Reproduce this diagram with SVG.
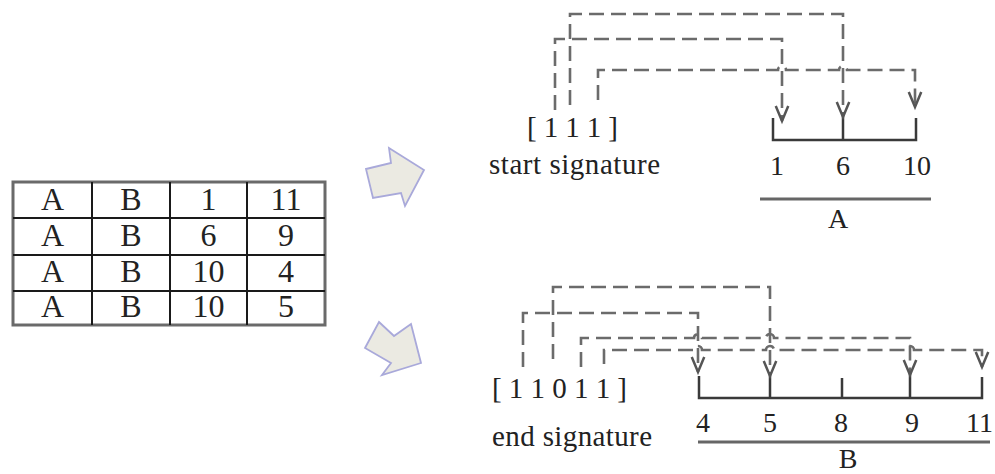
<svg xmlns="http://www.w3.org/2000/svg" width="995" height="474" viewBox="0 0 995 474">
  <style>
    text { font-family: "Liberation Serif", "Times New Roman", serif; fill: #222; }
    .cell { font-size: 32px; text-anchor: middle; }
    .lbl { font-size: 28px; text-anchor: middle; }
    .sig { font-size: 29px; }
    .grid { stroke: #1a1a1a; stroke-width: 2; fill: none; }
    .frame { stroke: #6a6a6a; stroke-width: 3; fill: none; }
    .dash { stroke: #6b6b6b; stroke-width: 2.6; fill: none; stroke-dasharray: 15 7; }
    .axis { stroke: #3a3a3a; stroke-width: 2.5; fill: none; }
    .under { stroke: #666; stroke-width: 3; }
    .block { fill: #ebeae2; stroke: #a9a9da; stroke-width: 1.8; stroke-linejoin: miter; }
  </style>
  <defs>
    <marker id="vhead" markerUnits="userSpaceOnUse" orient="auto" markerWidth="20" markerHeight="20" refX="0" refY="0" viewBox="-14 -8 16 16" overflow="visible">
      <path d="M-12,-5 L0,0 L-12,5" fill="none" stroke="#555" stroke-width="2" stroke-dasharray="none"/>
    </marker>
  </defs>
  <rect width="995" height="474" fill="#ffffff"/>

  <!-- source table -->
  <g id="table">
    <rect class="frame" x="13" y="182" width="312" height="143"/>
    <path class="grid" d="M13,218 H325 M13,255 H325 M13,291 H325 M92,182 V325 M170,182 V325 M247,182 V325"/>
    <g class="cell">
      <text x="52.5" y="210">A</text><text x="131" y="210">B</text><text x="208.5" y="210">1</text><text x="286" y="210">11</text>
      <text x="52.5" y="246">A</text><text x="131" y="246">B</text><text x="208.5" y="246">6</text><text x="286" y="246">9</text>
      <text x="52.5" y="282">A</text><text x="131" y="282">B</text><text x="208.5" y="282">10</text><text x="286" y="282">4</text>
      <text x="52.5" y="317">A</text><text x="131" y="317">B</text><text x="208.5" y="317">10</text><text x="286" y="317">5</text>
    </g>
  </g>

  <!-- block arrows -->
  <g id="arrow-up">
    <polygon class="block" points="366,169 391,163 389,148 424,170 405,206 401,193 373,198"/>
  </g>
  <g id="arrow-down">
    <polygon class="block" points="379,322 394,336 411,324 421,363 382,375 391,363 365,348"/>
  </g>

  <!-- start signature for column A -->
  <g id="start-signature">
    <text class="sig" x="527" y="137" textLength="91" lengthAdjust="spacing">[ 1 1 1 ]</text>
    <text class="sig" x="489" y="174" textLength="171" lengthAdjust="spacing">start signature</text>
  </g>
  <g id="axis-a">
    <path class="axis" d="M773,118 V140 H916 V118 M843,117 V140"/>
    <g class="lbl">
      <text x="777" y="175">1</text>
      <text x="843" y="175">6</text>
      <text x="917" y="175">10</text>
      <text x="838" y="228">A</text>
    </g>
    <line class="under" x1="760" y1="199" x2="931" y2="199"/>
  </g>

  <!-- end signature for column B -->
  <g id="end-signature">
    <text class="sig" x="492" y="398" textLength="135" lengthAdjust="spacing">[ 1 1 0 1 1 ]</text>
    <text class="sig" x="492" y="446" textLength="160" lengthAdjust="spacing">end signature</text>
  </g>
  <g id="axis-b">
    <path class="axis" d="M699,376 V398 H982 V377 M770,376 V398 M842,378 V398 M910,375 V398"/>
    <g class="lbl">
      <text x="703" y="432">4</text>
      <text x="770" y="432">5</text>
      <text x="841" y="432">8</text>
      <text x="912" y="432">9</text>
      <text x="993" y="432" text-anchor="end">11</text>
      <text x="848" y="468">B</text>
    </g>
    <line class="under" x1="698" y1="442" x2="990" y2="442"/>
  </g>

  <!-- dashed mapping connectors -->
  <g id="connectors">
    <path class="dash" d="M570,105 V14 H843 V117" marker-end="url(#vhead)"/>
    <path class="dash" d="M555,110 V39 H782 V121" marker-end="url(#vhead)"/>
    <path class="dash" d="M598,100 V70 H778 a4,4 0 0 1 8,0 H839 a4,4 0 0 1 8,0 H915 V107" marker-end="url(#vhead)"/>

    <path class="dash" d="M553,359 V287 H770 V376" marker-end="url(#vhead)"/>
    <path class="dash" d="M523,367 V313 H698 V372" marker-end="url(#vhead)"/>
    <path class="dash" d="M581,367 V338 H694 a4,4 0 0 1 8,0 H766 a4,4 0 0 1 8,0 H910 V375" marker-end="url(#vhead)"/>
    <path class="dash" d="M604,364 V350 H694 a4,4 0 0 1 8,0 H766 a4,4 0 0 1 8,0 H906 a4,4 0 0 1 8,0 H982 V367" marker-end="url(#vhead)"/>
  </g>
</svg>
